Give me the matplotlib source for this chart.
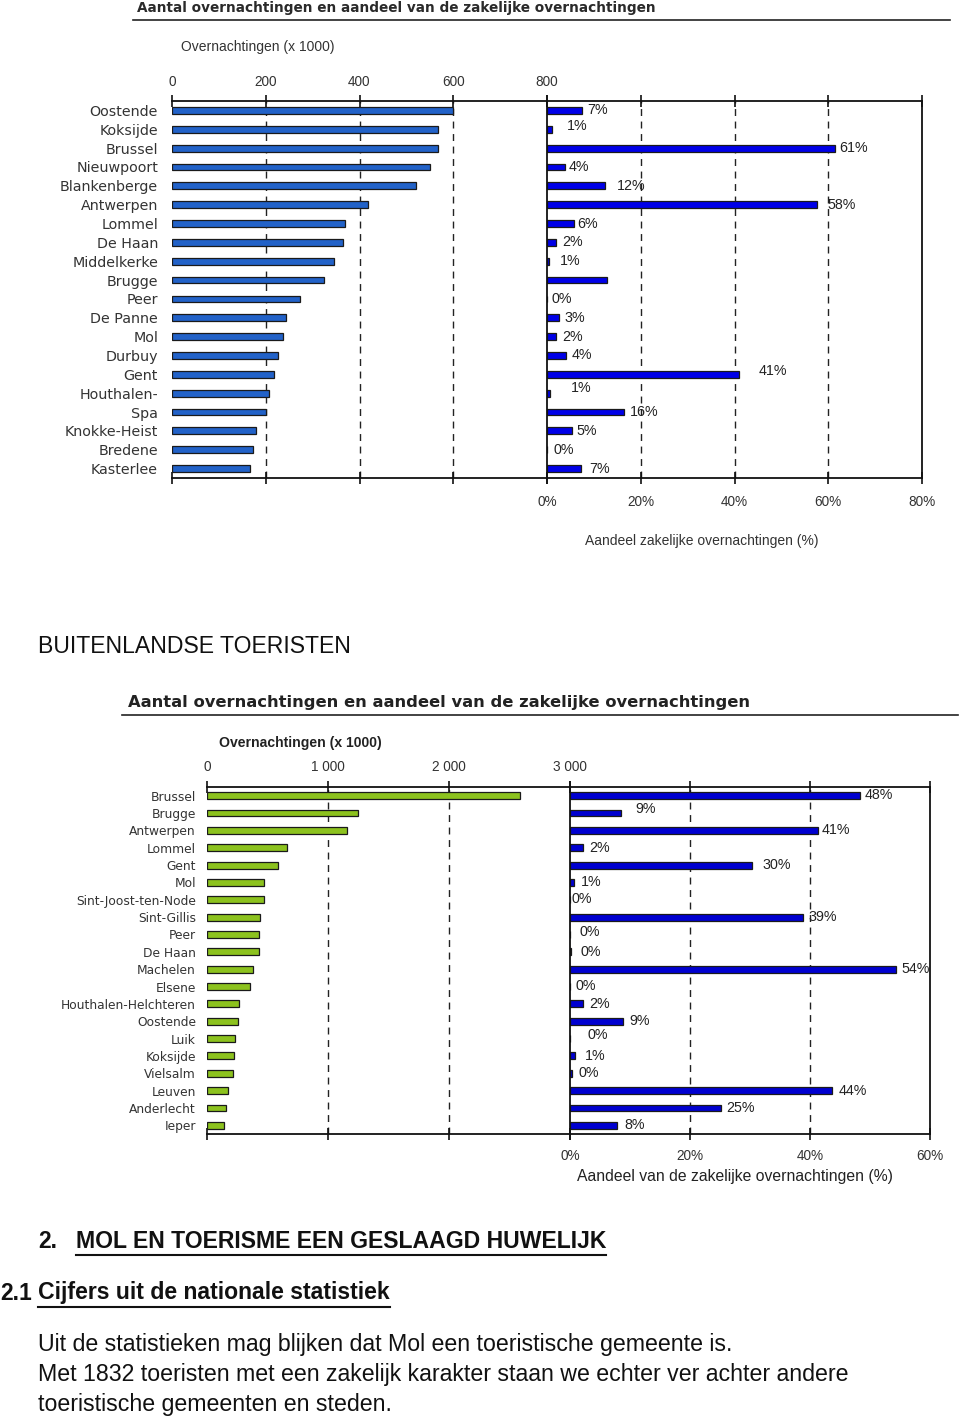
"""Two Excel-style combined bar charts (nights + business share) on a report page."""

import matplotlib

matplotlib.use("Agg")
import matplotlib.pyplot as plt
from matplotlib.lines import Line2D

W, H = 960, 1420

# --- data: Vlaamse/Belgische toeristen (top chart) ---
top_cities = [
    "Oostende", "Koksijde", "Brussel", "Nieuwpoort", "Blankenberge",
    "Antwerpen", "Lommel", "De Haan", "Middelkerke", "Brugge",
    "Peer", "De Panne", "Mol", "Durbuy", "Gent",
    "Houthalen-", "Spa", "Knokke-Heist", "Bredene", "Kasterlee",
]
top_nights = [600, 568, 568, 550, 520, 418, 369, 364, 345, 324,
              272, 243, 236, 227, 218, 206, 200, 179, 172, 167]
top_share = [7.5, 1.0, 61.5, 3.8, 12.3, 57.5, 5.8, 1.9, 0.5, 12.8,
             0.0, 2.6, 1.9, 4.0, 41.0, 0.6, 16.5, 5.3, 0.0, 7.3]
top_share_labels = ["7%", "1%", "61%", "4%", "12%", "58%", "6%", "2%", "1%", "",
                    "0%", "3%", "2%", "4%", "41%", "1%", "16%", "5%", "0%", "7%"]
top_night_ticks = [0, 200, 400, 600, 800]
top_share_ticks = [0, 20, 40, 60, 80]

# --- data: buitenlandse toeristen (bottom chart) ---
bot_cities = [
    "Brussel", "Brugge", "Antwerpen", "Lommel", "Gent", "Mol",
    "Sint-Joost-ten-Node", "Sint-Gillis", "Peer", "De Haan", "Machelen",
    "Elsene", "Houthalen-Helchteren", "Oostende", "Luik", "Koksijde",
    "Vielsalm", "Leuven", "Anderlecht", "Ieper",
]
bot_nights = [2585, 1244, 1156, 665, 590, 469, 469, 441, 428, 428,
              384, 353, 268, 257, 235, 224, 215, 171, 160, 138]
bot_share = [48.4, 8.5, 41.3, 2.2, 30.3, 0.6, 0.0, 38.9, 0.0, 0.2,
             54.4, 0.0, 2.2, 8.9, 0.0, 0.9, 0.4, 43.7, 25.1, 7.8]
bot_share_labels = ["48%", "9%", "41%", "2%", "30%", "1%", "0%", "39%", "0%", "0%",
                    "54%", "0%", "2%", "9%", "0%", "1%", "0%", "44%", "25%", "8%"]
bot_night_ticks = [0, 1000, 2000, 3000]
bot_night_ticklabels = ["0", "1 000", "2 000", "3 000"]
bot_share_ticks = [0, 20, 40, 60]

# label nudges in pixels (dx from bar end, dy; positive dy = up), as in the source
top_label_nudge = [(5, 0), (15, 3), (4, 0), (4, 0), (12, 0), (11, 0), (3, 0), (6, 0),
                   (11, 0), (0, 0), (5, 0), (5, 0), (6, 0), (6, 0), (19, 3), (21, 5),
                   (6, 0), (5, 0), (6, 0), (8, 0)]
bot_label_nudge = [(4, 1), (14, 4), (4, 0), (6, 0), (11, 0), (7, 0), (1, 1), (5, 0),
                   (9, 2), (9, 0), (5, 0), (5, 1), (6, 0), (6, 0), (18, 4), (9, 0),
                   (6, 0), (6, 0), (6, 0), (8, 0)]

LABEL_FONT = "DejaVu Sans"
NUM_FONT = "Liberation Sans"


def px_axes(fig, x0, y0, x1, y1):
    """Axes from pixel box (top-left origin)."""
    return fig.add_axes([x0 / W, 1 - y1 / H, (x1 - x0) / W, (y1 - y0) / H])


def ftext(fig, x, y, s, **kw):
    return fig.text(x / W, 1 - y / H, s, **kw)


def dashed_grid(ax, xs):
    for x in xs:
        ax.axvline(x, color="#222222", lw=1.0, ls=(0, (5, 4)), zorder=0)


def style_axes(ax, ticks, ticklabels, labeltop, fontsize, pad, tick_color="#333333"):
    ax.set_xticks(ticks)
    ax.set_xticklabels(ticklabels, fontfamily=NUM_FONT, fontsize=fontsize, color=tick_color)
    ax.tick_params(axis="x", top=True, bottom=True, labeltop=labeltop,
                   labelbottom=not labeltop, direction="inout", length=9,
                   width=1.2, pad=pad, color="#111111")
    for side in ("top", "bottom"):
        ax.spines[side].set_linewidth(1.3)
        ax.spines[side].set_color("#111111")


def draw_chart(fig, box, split_x, cities, nights, shares, share_labels, nudges,
               night_ticks, night_ticklabels, night_max, share_ticks, share_max,
               night_color, share_color, bar_h, city_size, city_pad, tick_size,
               pad_top, pad_bottom):
    x0, y0, x1, y1 = box
    n = len(cities)
    rows = list(range(n))

    axl = px_axes(fig, x0, y0, split_x, y1)
    axr = px_axes(fig, split_x, y0, x1, y1)

    axl.barh(rows, nights, height=bar_h, color=night_color,
             edgecolor="#1a1a1a", linewidth=0.9, zorder=2)
    axl.set_xlim(0, night_max)
    axl.set_ylim(n - 0.5, -0.5)
    axl.set_yticks(rows)
    axl.set_yticklabels(cities, fontfamily=LABEL_FONT, fontsize=city_size, color="#333333")
    axl.tick_params(axis="y", length=0, pad=city_pad)
    style_axes(axl, night_ticks, night_ticklabels, True, tick_size, pad_top)
    axl.spines["left"].set_visible(False)
    axl.spines["right"].set_visible(False)
    dashed_grid(axl, night_ticks[1:-1])

    axr.barh(rows, shares, height=bar_h, color=share_color,
             edgecolor="#1a1a1a", linewidth=0.9, zorder=2)
    axr.set_xlim(0, share_max)
    axr.set_ylim(n - 0.5, -0.5)
    axr.set_yticks([])
    style_axes(axr, share_ticks, [f"{t}%" for t in share_ticks], False, tick_size, pad_bottom)
    for side in ("left", "right"):
        axr.spines[side].set_linewidth(1.3)
        axr.spines[side].set_color("#111111")
    dashed_grid(axr, share_ticks[1:-1])

    for i, (v, lab) in enumerate(zip(shares, share_labels)):
        if not lab:
            continue
        dx, dy = nudges[i]
        axr.annotate(lab, (v, i), xytext=(dx, dy), textcoords="offset pixels",
                     ha="left", va="center", fontfamily=NUM_FONT,
                     fontsize=tick_size + 0.5, color="#222222", zorder=3,
                     annotation_clip=False)
    return axl, axr


def underline(fig, txt, renderer, y_off=2, lw=1.5):
    bb = txt.get_window_extent(renderer=renderer)
    y = bb.y0 - y_off
    fig.add_artist(Line2D([bb.x0 / W, bb.x1 / W], [y / H, y / H], transform=fig.transFigure,
                          color=txt.get_color(), lw=lw))


def main():
    fig = plt.figure(figsize=(W / 100, H / 100), dpi=100)
    fig.patch.set_facecolor("white")

    # ---------- top chart ----------
    ftext(fig, 137, 8, "Aantal overnachtingen en aandeel van de zakelijke overnachtingen",
          fontfamily=LABEL_FONT, fontsize=9.8, fontweight="bold", color="#2a2a2a",
          va="center", ha="left")
    fig.add_artist(Line2D([133 / W, 950 / W], [1 - 20 / H, 1 - 20 / H],
                          transform=fig.transFigure, color="#222222", lw=1.2))
    ftext(fig, 181, 47, "Overnachtingen (x 1000)", fontfamily=NUM_FONT, fontsize=10,
          color="#333333", va="center", ha="left")
    draw_chart(fig, (172, 101, 922, 478), 547, top_cities, top_nights, top_share,
               top_share_labels, top_label_nudge, top_night_ticks,
               [str(t) for t in top_night_ticks], 800, top_share_ticks, 80,
               "#2262c8", "#0000e8", 0.36, 10.3, 10, 9.8, 4, 8)
    ftext(fig, 702, 541, "Aandeel zakelijke overnachtingen (%)", fontfamily=NUM_FONT,
          fontsize=10, color="#333333", va="center", ha="center")

    # ---------- page text ----------
    ftext(fig, 38, 647, "BUITENLANDSE TOERISTEN", fontfamily=NUM_FONT, fontsize=16.6,
          color="#111111", va="center", ha="left")

    # ---------- bottom chart ----------
    ftext(fig, 128, 703, "Aantal overnachtingen en aandeel van de zakelijke overnachtingen",
          fontfamily=LABEL_FONT, fontsize=11.8, fontweight="bold", color="#222222",
          va="center", ha="left")
    fig.add_artist(Line2D([122 / W, 958 / W], [1 - 715 / H, 1 - 715 / H],
                          transform=fig.transFigure, color="#222222", lw=1.2))
    ftext(fig, 219, 743, "Overnachtingen (x 1000)", fontfamily=NUM_FONT, fontsize=10.1,
          fontweight="bold", color="#222222", va="center", ha="left")
    draw_chart(fig, (207, 787, 930, 1134), 570, bot_cities, bot_nights, bot_share,
               bot_share_labels, bot_label_nudge, bot_night_ticks, bot_night_ticklabels,
               3000, bot_share_ticks, 60, "#8cc21e", "#0000d0", 0.4, 8.8, 8, 9.8, 5, 6)
    ftext(fig, 735, 1177, "Aandeel van de zakelijke overnachtingen (%)", fontfamily=NUM_FONT,
          fontsize=11.3, color="#222222", va="center", ha="center")

    heading_font = ["Liberation Sans Narrow", "Liberation Sans"]
    ftext(fig, 38, 1241, "2.", fontfamily=heading_font, fontsize=16.5,
          fontweight="bold", color="#111111", va="center", ha="left")
    h2 = ftext(fig, 76, 1241, "MOL EN TOERISME EEN GESLAAGD HUWELIJK", fontfamily=heading_font,
               fontsize=16.6, fontweight="bold", color="#111111", va="center", ha="left")
    ftext(fig, 0, 1293, "2.1", fontfamily=heading_font, fontsize=16.5,
          fontweight="bold", color="#111111", va="center", ha="left")
    h21 = ftext(fig, 38, 1293, "Cijfers uit de nationale statistiek", fontfamily=heading_font,
                fontsize=16.6, fontweight="bold", color="#111111", va="center", ha="left")

    body = [
        "Uit de statistieken mag blijken dat Mol een toeristische gemeente is.",
        "Met 1832 toeristen met een zakelijk karakter staan we echter ver achter andere",
        "toeristische gemeenten en steden.",
    ]
    for k, line in enumerate(body):
        ftext(fig, 38, 1345 + 30 * k, line, fontfamily=heading_font, fontsize=16.7,
              color="#111111", va="center", ha="left")

    renderer = fig.canvas.get_renderer()
    underline(fig, h2, renderer)
    underline(fig, h21, renderer)

    fig.savefig("out.png", dpi=100, facecolor="white")
    plt.close(fig)


if __name__ == "__main__":
    main()
